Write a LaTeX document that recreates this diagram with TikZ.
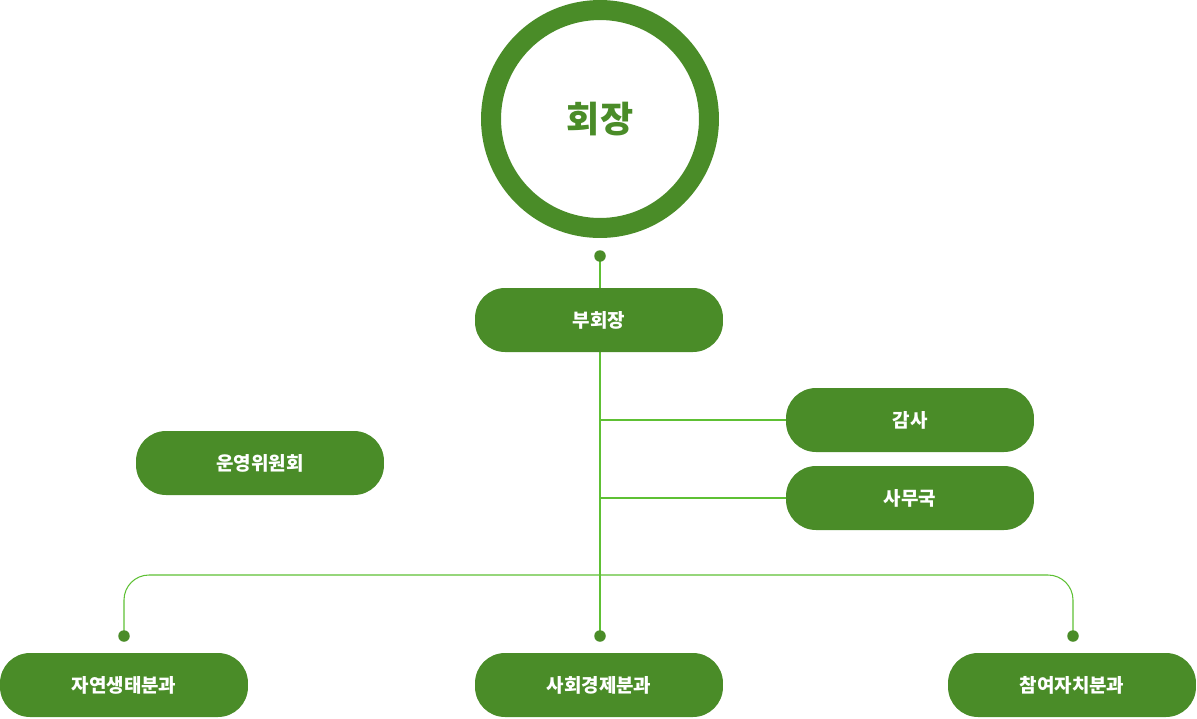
\documentclass[tikz,border=0pt]{standalone}
\usepackage{fontspec}
\setmainfont{Noto Sans CJK KR}
\usetikzlibrary{backgrounds}

\definecolor{boxgreen}{RGB}{74,140,40}
\definecolor{linegreen}{RGB}{94,192,52}

\tikzset{
  unit/.style={rectangle, fill=boxgreen, rounded corners=0.6cm, minimum width=4.96cm,
    minimum height=1.28cm, inner sep=0pt, text=white, font=\fontsize{10.8}{12}\selectfont\bfseries},
  dot/.style={circle, fill=boxgreen, minimum size=0.23cm, inner sep=0pt},
  link/.style={draw=linegreen, line width=0.6pt}
}

\begin{document}
\begin{tikzpicture}[x=0.02cm,y=-0.02cm]
\useasboundingbox (0,0) rectangle (1197,718);

% chair
\node[circle, draw=boxgreen, line width=0.4cm, minimum size=4.36cm, inner sep=0pt,
  text=boxgreen, font=\fontsize{20.5}{24}\selectfont\bfseries] (chair) at (600,119) {회장};

\node[dot] (topdot) at (600,256) {};
\node[unit] (vice) at (599,320) {부회장};

\node[unit] (audit) at (910,420) {감사};
\node[unit] (office) at (910,498) {사무국};

\node[unit] (board) at (260,463) {운영위원회};

\coordinate (branch) at (600,575);
\node[dot] (ldot) at (124,636) {};
\node[dot] (mdot) at (600,636) {};
\node[dot] (rdot) at (1073,636) {};

\node[unit] (nature) at (124,685) {자연생태분과};
\node[unit] (economy) at (599,685) {사회경제분과};
\node[unit] (citizen) at (1072,685) {참여자치분과};

\begin{scope}[on background layer]
\draw[link] (topdot.center) -- (mdot.center);
\draw[link] (topdot |- audit.west) -- (audit.west);
\draw[link] (topdot |- office.west) -- (office.west);
\draw[link, rounded corners=0.5cm] (ldot.center) -- (ldot |- branch) -- (rdot |- branch) -- (rdot.center);
\end{scope}
\end{tikzpicture}
\end{document}
